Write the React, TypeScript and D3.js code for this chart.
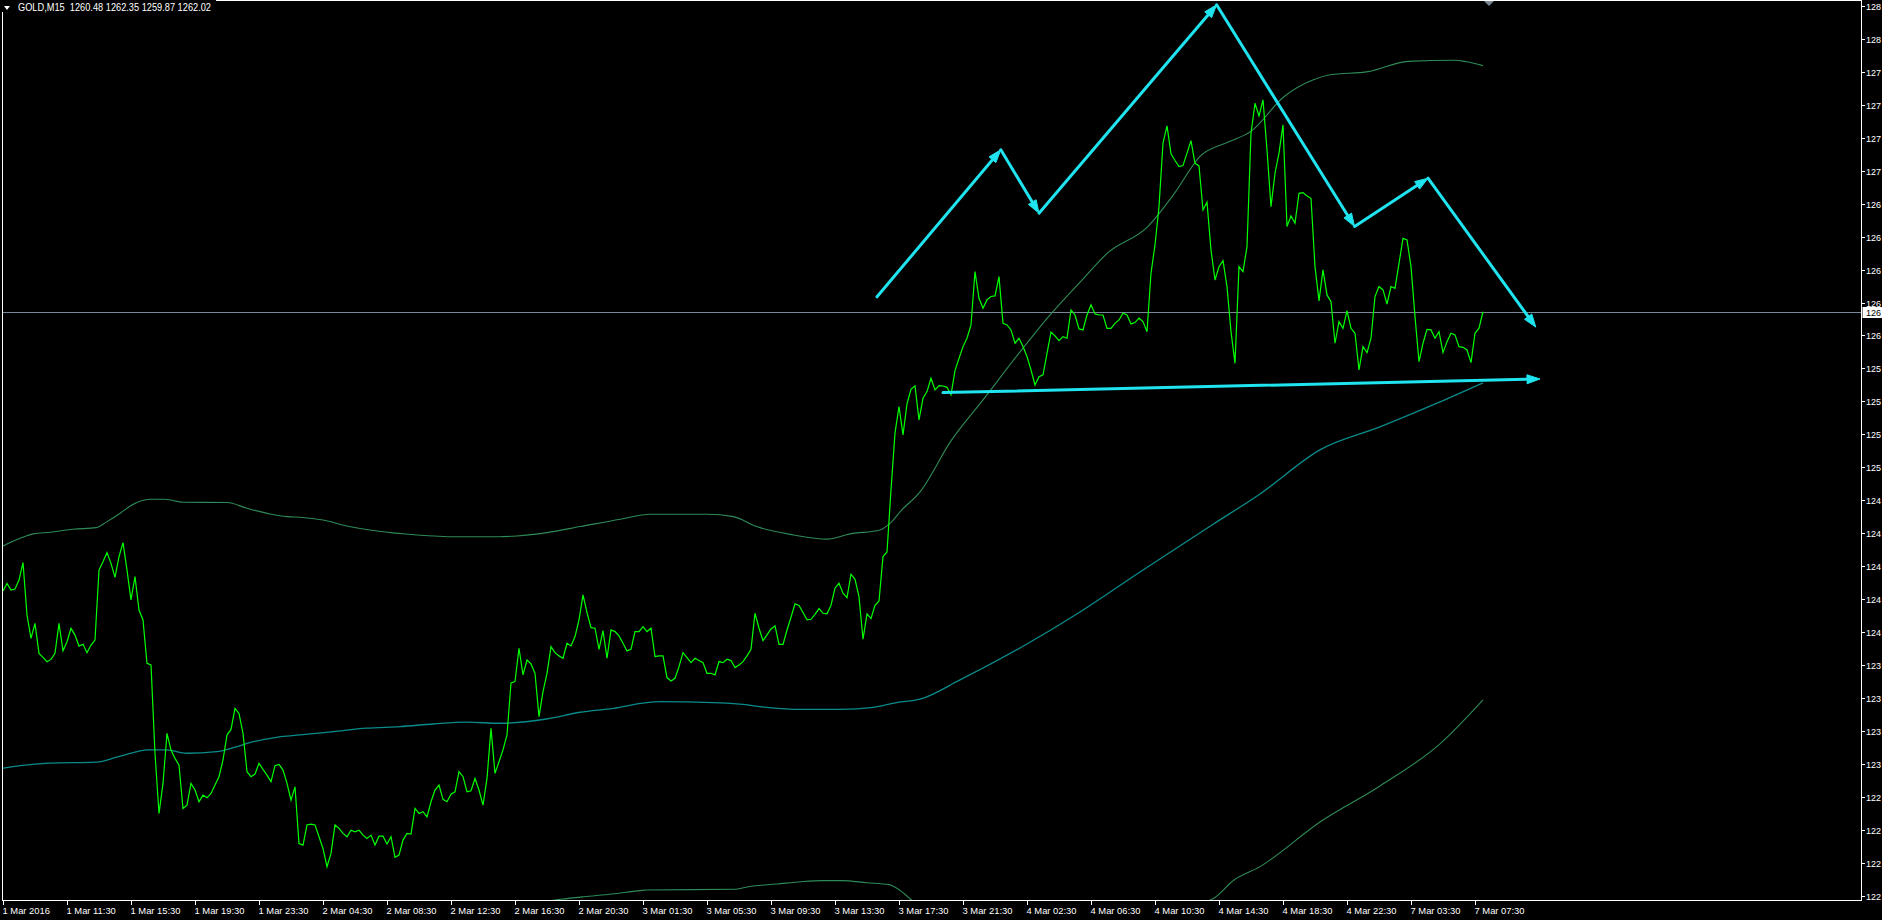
import React from 'react';
import * as d3 from 'd3';

const W = 1882;
const H = 920;

// ---- data ----
const headerSymbol = 'GOLD,M15';
const headerOHLC = ['1260.48', '1262.35', '1259.87', '1262.02'];
const lastPrice = 1262.02;

// M15 closes, bar 0 = 1 Mar 2016 07:30 ... bar 370 = 7 Mar 08:00
const closes = [
  1242.95, 1243.47, 1243.02, 1243.09, 1243.7, 1244.89, 1241.31, 1239.72, 1240.74, 1238.69,
  1238.42, 1238.12, 1238.28, 1238.69, 1240.74, 1238.87, 1239.49, 1240.4, 1239.94, 1239.19,
  1239.31, 1238.74, 1239.26, 1239.6, 1244.38, 1244.95, 1245.57, 1244.84, 1243.88, 1245.3,
  1246.25, 1244.38, 1242.34, 1243.93, 1241.65, 1240.97, 1238.01, 1237.9, 1231.86, 1227.76,
  1229.81, 1233.23, 1232.09, 1231.52, 1231.06, 1228.1, 1228.33, 1229.81, 1229.36, 1228.56,
  1229.01, 1228.83, 1229.13, 1229.7, 1230.27, 1231.41, 1233.11, 1233.5, 1234.93, 1234.59,
  1233.23, 1230.61, 1230.27, 1230.45, 1231.18, 1230.77, 1230.38, 1229.93, 1231.02, 1231.11,
  1230.72, 1229.81, 1228.67, 1229.58, 1225.71, 1225.6, 1226.97, 1227.03, 1226.97, 1226.17,
  1225.37, 1224.12, 1225.03, 1226.97, 1226.74, 1226.4, 1226.17, 1226.62, 1226.51, 1226.62,
  1226.28, 1226.05, 1226.28, 1225.6, 1226.21, 1226.21, 1225.67, 1226.17, 1224.76, 1224.92,
  1225.94, 1226.4, 1226.35, 1228.1, 1227.76, 1227.88, 1227.53, 1228.56, 1229.36, 1229.7,
  1228.72, 1228.56, 1229.08, 1229.24, 1230.61, 1230.27, 1229.24, 1229.31, 1230.15, 1229.36,
  1228.33, 1230.15, 1233.57, 1230.5, 1231.29, 1232.1, 1233.12, 1236.67, 1236.76, 1239.04,
  1237.22, 1238.24, 1237.97, 1237.33, 1234.37, 1236.08, 1237.33, 1239.15, 1238.74, 1238.52,
  1238.36, 1239.38, 1239.2, 1239.84, 1240.98, 1242.68, 1241.48, 1240.45, 1240.41, 1238.97,
  1240.25, 1238.36, 1240.29, 1240.18, 1239.88, 1239.38, 1238.86, 1238.97, 1240.18, 1240.18,
  1240.52, 1240.18, 1240.41, 1238.47, 1238.52, 1238.52, 1237.04, 1236.81, 1236.99, 1237.79,
  1238.74, 1238.4, 1238.06, 1238.36, 1238.2, 1238.06, 1237.33, 1237.33, 1237.22, 1238.13,
  1238.06, 1238.29, 1238.2, 1237.72, 1237.9, 1238.13, 1238.52, 1238.97, 1241.43, 1240.41,
  1239.56, 1239.95, 1240.36, 1240.57, 1239.31, 1239.31, 1240.29, 1241.16, 1242.07, 1241.96,
  1241.48, 1240.98, 1241.02, 1241.36, 1241.75, 1241.43, 1241.39, 1241.98, 1243.14, 1243.48,
  1242.8, 1242.5, 1244.1, 1243.75, 1242.57, 1239.66, 1241.39, 1241.07, 1241.98, 1242.27,
  1245.3, 1245.62, 1249.86, 1253.73, 1255.55, 1253.61, 1255.73, 1256.73, 1256.96, 1254.64,
  1256.11, 1256.57, 1257.48, 1256.68, 1256.97, 1256.95, 1256.86, 1256.34, 1258.0, 1258.84,
  1259.64, 1260.21, 1261.12, 1264.76, 1262.94, 1262.26, 1262.83, 1263.06, 1263.1, 1264.42,
  1261.23, 1261.12, 1260.78, 1259.87, 1260.21, 1259.64, 1258.96, 1258.05, 1257.02, 1257.59,
  1257.71, 1259.18, 1260.62, 1260.37, 1260.05, 1260.32, 1260.21, 1262.14, 1261.8, 1260.85,
  1260.78, 1261.8, 1262.49, 1261.87, 1261.8, 1261.8, 1260.89, 1260.89, 1261.23, 1261.46,
  1261.92, 1261.8, 1261.19, 1261.28, 1261.58, 1261.35, 1260.66, 1264.65, 1266.58, 1269.2,
  1273.53, 1274.71, 1272.8, 1272.35, 1271.93, 1272.0, 1272.85, 1273.71, 1272.16, 1271.98,
  1268.97, 1269.5, 1266.24, 1264.19, 1265.1, 1265.51, 1263.74, 1260.66, 1258.5, 1265.1,
  1264.76, 1266.47, 1274.21, 1276.26, 1275.4, 1276.49, 1273.07, 1269.2, 1271.48, 1272.85,
  1274.78, 1267.84, 1268.57, 1268.07, 1270.11, 1270.16, 1269.93, 1269.77, 1265.1, 1262.76,
  1264.88, 1263.17, 1262.71, 1259.87, 1261.35, 1260.89, 1262.1, 1260.89, 1260.55, 1258.05,
  1259.64, 1259.23, 1260.21, 1263.06, 1263.74, 1263.51, 1262.55, 1263.74, 1263.62, 1265.33,
  1267.04, 1266.93, 1265.1, 1261.69, 1258.61, 1259.87, 1260.82, 1260.78, 1260.21, 1260.66,
  1259.23, 1259.98, 1260.55, 1260.44, 1259.64, 1259.59, 1259.41, 1258.55, 1260.55, 1260.9,
  1262.02,
];

// Bollinger bands, [bar, price]
const upperBand: [number, number][] = [
  [0, 1246.03], [4.3, 1246.55], [7.5, 1246.85], [11.8, 1246.96], [17.5, 1247.17], [23.3, 1247.28],
  [26, 1247.69], [29.3, 1248.26], [31.8, 1248.76], [36.8, 1249.22], [40.5, 1249.22], [45, 1249.01],
  [56, 1248.99], [61, 1248.6], [66.8, 1248.21], [71, 1248.03], [74.3, 1247.99], [80, 1247.8],
  [86, 1247.39], [93.5, 1247.05], [103.5, 1246.78], [113, 1246.66], [124, 1246.66], [128.5, 1246.71],
  [136, 1246.94], [144.3, 1247.35], [154.3, 1247.85], [161.8, 1248.19], [176, 1248.19], [182.6, 1248.03],
  [188.4, 1247.35], [197.6, 1246.78], [206, 1246.49], [211.8, 1246.85], [219.3, 1247.12], [221.8, 1247.58],
  [224.3, 1248.37], [229.3, 1249.74], [237, 1253.2], [245, 1256.0], [254, 1259.19], [261.4, 1261.69],
  [269.8, 1264.2], [276.1, 1266.02], [286.2, 1267.84], [292.9, 1270.12], [299.2, 1272.62], [306.6, 1273.64],
  [311.9, 1274.32], [320.3, 1276.72], [327.6, 1277.86], [331.8, 1278.2], [341.3, 1278.42], [351.3, 1279.12],
  [363, 1279.2], [365.9, 1279.09], [370, 1278.83],
];
const middleBand: [number, number][] = [
  [0, 1230.85], [4.25, 1231.02], [11.75, 1231.19], [23.4, 1231.26], [28.4, 1231.6], [32.6, 1231.91],
  [35.9, 1232.1], [40.9, 1232.1], [45.9, 1231.87], [53.4, 1231.98], [57.6, 1232.25], [62.6, 1232.66],
  [68.4, 1232.96], [74.25, 1233.12], [82.6, 1233.35], [90.9, 1233.58], [99.25, 1233.69], [107.6, 1233.87],
  [115.9, 1233.99], [124.25, 1233.92], [135.9, 1234.21], [144.25, 1234.67], [152.6, 1234.94], [160.9, 1235.33],
  [164.25, 1235.39], [177.6, 1235.33], [184.25, 1235.22], [190.9, 1235.01], [199.25, 1234.87], [209.25, 1234.87],
  [217.6, 1235.01], [223.4, 1235.33], [229.25, 1235.56], [239.25, 1236.88], [254.25, 1239.06], [269.25, 1241.52],
  [284.25, 1244.25], [302.25, 1247.46], [314.25, 1249.58], [329.25, 1252.59], [344.25, 1254.16], [359.25, 1255.86],
  [370, 1257.16],
];
const lowerBand: [number, number][] = [
  [0, 1215.7], [61, 1216.4], [124, 1221.0], [138, 1221.85], [139.5, 1221.9], [145.2, 1222.07],
  [152.25, 1222.26], [159.25, 1222.49], [160.8, 1222.53], [183.25, 1222.58], [186.35, 1222.76], [193.5, 1222.94],
  [199.6, 1223.1], [204.7, 1223.17], [209.75, 1223.17], [215.9, 1223.03], [221.55, 1222.9], [224.1, 1222.53],
  [227.15, 1221.85], [229.25, 1221.37], [245, 1219.4], [269.25, 1218.85], [284.25, 1220.89], [302.25, 1221.9],
  [307.75, 1223.22], [314.25, 1224.13], [329.25, 1227.18], [344.25, 1229.64], [359.25, 1232.51], [370, 1235.51],
];

const timeTickBars = [0, 16, 32, 48, 64, 80, 96, 112, 128, 144, 160, 176, 192, 208, 224, 240, 256, 272, 288, 304, 320, 336, 352, 368];
const timeTickLabels = [
  '1 Mar 2016', '1 Mar 11:30', '1 Mar 15:30', '1 Mar 19:30', '1 Mar 23:30', '2 Mar 04:30',
  '2 Mar 08:30', '2 Mar 12:30', '2 Mar 16:30', '2 Mar 20:30', '3 Mar 01:30', '3 Mar 05:30',
  '3 Mar 09:30', '3 Mar 13:30', '3 Mar 17:30', '3 Mar 21:30', '4 Mar 02:30', '4 Mar 06:30',
  '4 Mar 10:30', '4 Mar 14:30', '4 Mar 18:30', '4 Mar 22:30', '7 Mar 03:30', '7 Mar 07:30',
];
const priceTicks = [
  1222.15, 1224.4, 1226.65, 1228.9, 1231.15, 1233.4, 1235.65, 1237.9, 1240.15, 1242.4,
  1244.65, 1246.9, 1249.15, 1251.4, 1253.65, 1255.9, 1258.15, 1260.4, 1262.65, 1264.9,
  1267.15, 1269.4, 1271.65, 1273.9, 1276.15, 1278.4, 1280.65, 1282.9,
];
// the window edge only leaves room for the first three digits of each price label
const priceLabelVisibleChars = 3;

// hand-drawn arrowed lines (head & shoulders), [bar, price]
const patternPath: [number, number][] = [
  [218.5, 1263.04], [249.45, 1273.08], [259.0, 1268.75], [303.4, 1282.98],
  [337.9, 1267.84], [356.25, 1271.14], [383.2, 1260.97],
];
const necklinePath: [number, number][] = [[235.0, 1256.5], [384.25, 1257.43]];
const shiftMarkerBar = 371;

// ---- styles ----
const BG = '#000000';
const FG = '#FFFFFF';
const PRICE_COLOR = '#00FF00';
const BAND_COLOR = '#2E8B57';
const MID_COLOR = '#0A8A8A';
const ARROW_COLOR = '#1FE3EE';
const BIDLINE_COLOR = '#778899';
const FONT = '"Liberation Sans", Arial, sans-serif';

const PL = 2.5, PR = 1861.5, PT = 0.5, PB = 900.5;

export default function App() {
  const x = d3.scaleLinear().domain([0, 370]).range([3, 1483]);
  const y = d3.scaleLinear().domain([priceTicks[0], priceTicks[priceTicks.length - 1]]).range([895.6, 6]);

  const priceLine = d3.line<number>().x((_, i) => x(i)).y((d) => y(d));
  const bandLine = d3
    .line<[number, number]>()
    .x((d) => x(d[0]))
    .y((d) => y(d[1]))
    .curve(d3.curveMonotoneX);

  const arrowSegments = (pts: [number, number][]) => {
    const px = pts.map((p) => [x(p[0]), y(p[1])] as [number, number]);
    const out: { line: string; head: string }[] = [];
    const len = 13;
    const hw = 4.5;
    for (let k = 1; k < px.length; k++) {
      const [x0, y0] = px[k - 1];
      const [x1, y1] = px[k];
      const dx = x1 - x0;
      const dy = y1 - y0;
      const d = Math.hypot(dx, dy);
      const ux = dx / d;
      const uy = dy / d;
      const bx = x1 - ux * len;
      const by = y1 - uy * len;
      const lx = bx - uy * hw;
      const ly = by + ux * hw;
      const rx = bx + uy * hw;
      const ry = by - ux * hw;
      out.push({
        line: `M${x0},${y0}L${bx + ux * 2},${by + uy * 2}`,
        head: `M${x1},${y1}L${lx},${ly}L${rx},${ry}Z`,
      });
    }
    return out;
  };

  const arrows = [...arrowSegments(patternPath), ...arrowSegments(necklinePath)];
  const yLast = Math.round(y(lastPrice)) + 0.5;
  const sx = x(shiftMarkerBar) + 2;
  const priceLabel = (p: number) => p.toFixed(2).slice(0, priceLabelVisibleChars);

  return (
    <svg
      width={W}
      height={H}
      style={{ position: 'absolute', left: 0, top: 0, display: 'block', background: BG }}
      fontFamily={FONT}
    >
      <defs>
        <clipPath id="plot">
          <rect x={PL} y={PT} width={PR - PL} height={PB - PT} />
        </clipPath>
      </defs>
      <rect x={0} y={0} width={W} height={H} fill={BG} />

      <g clipPath="url(#plot)">
        {/* bid line */}
        <line x1={PL} x2={PR} y1={yLast} y2={yLast} stroke={BIDLINE_COLOR} strokeWidth={1} shapeRendering="crispEdges" />
        {/* Bollinger bands */}
        <path d={bandLine(upperBand) || ''} fill="none" stroke={BAND_COLOR} strokeWidth={1.1} />
        <path d={bandLine(lowerBand) || ''} fill="none" stroke={BAND_COLOR} strokeWidth={1.1} />
        <path d={bandLine(middleBand) || ''} fill="none" stroke={MID_COLOR} strokeWidth={1.3} />
        {/* close line */}
        <path d={priceLine(closes) || ''} fill="none" stroke={PRICE_COLOR} strokeWidth={1.2} strokeLinejoin="miter" />
        {/* drawn arrows */}
        {arrows.map((a, i) => (
          <g key={i}>
            <path d={a.line} stroke={ARROW_COLOR} strokeWidth={3} fill="none" strokeLinecap="round" />
            <path d={a.head} fill={ARROW_COLOR} stroke={ARROW_COLOR} strokeWidth={1} strokeLinejoin="miter" />
          </g>
        ))}
      </g>

      {/* frame */}
      <g stroke={FG} strokeWidth={1} shapeRendering="crispEdges">
        <line x1={PL} x2={PR} y1={PT} y2={PT} />
        <line x1={PL} x2={PL} y1={PT} y2={PB} />
        <line x1={PR} x2={PR} y1={PT} y2={PB} />
        <line x1={PL} x2={PR} y1={PB} y2={PB} />
      </g>

      {/* shift marker */}
      <path d={`M${sx - 5},1L${sx + 5},1L${sx},6Z`} fill="#7C8894" />

      {/* header */}
      <rect x={0} y={0} width={216} height={12} fill={BG} />
      <path d="M4,6L10,6L7,10Z" fill={FG} />
      <text x={18} y={11.3} fill={FG} fontSize={10.5} textLength={193} lengthAdjust="spacingAndGlyphs" style={{ whiteSpace: 'pre' }}>
        {`${headerSymbol}  ${headerOHLC.join(' ')}`}
      </text>

      {/* time axis */}
      <g>
        {timeTickBars.map((b, i) => {
          const tx = Math.round(x(b)) + 0.5;
          return (
            <g key={b}>
              <line x1={tx} x2={tx} y1={PB} y2={PB + 4} stroke={FG} shapeRendering="crispEdges" />
              <text x={tx - 1} y={913.5} fill={FG} fontSize={9.4}>
                {timeTickLabels[i]}
              </text>
            </g>
          );
        })}
      </g>

      {/* price axis */}
      <g>
        {priceTicks.map((p) => {
          const ty = Math.round(y(p)) + 0.5;
          return (
            <g key={p}>
              <line x1={PR} x2={PR + 3} y1={ty} y2={ty} stroke={FG} shapeRendering="crispEdges" />
              <text x={1866} y={ty + 3.4} fill={FG} fontSize={9}>
                {priceLabel(p)}
              </text>
            </g>
          );
        })}
        <rect x={PR + 1} y={yLast - 5.5} width={W - PR} height={11} fill={FG} />
        <text x={1866} y={yLast + 3.4} fill="#000000" fontSize={9}>
          {priceLabel(lastPrice)}
        </text>
      </g>
    </svg>
  );
}
